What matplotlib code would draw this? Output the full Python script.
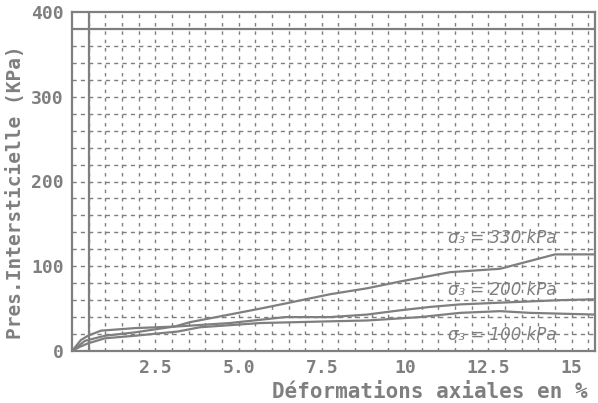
import numpy as np
import matplotlib.pyplot as plt

# strain (%) vs pore pressure (kPa)
strain_330 = [0, 0.39, 0.99, 1.89, 3.09, 3.54, 5.65, 6.4, 7.75, 8.86, 9.85, 11.35, 12.85, 14.5, 15.7]
pres_330 = [0, 12, 18, 22, 29, 34, 50, 56, 67, 74, 82, 93, 97, 114, 114]

strain_200 = [0, 0.27, 0.48, 0.87, 1.89, 3.18, 4.74, 6.4, 7.75, 8.86, 9.85, 10.75, 11.65, 13.45, 14.65, 15.7]
pres_200 = [0, 13, 18, 24, 27, 29, 33, 40, 40, 43, 48, 52, 55, 58, 60, 61]

strain_100 = [0, 0.24, 0.48, 0.99, 1.89, 3.18, 3.84, 5.65, 7.75, 8.86, 10.45, 11.65, 12.85, 13.75, 15.7]
pres_100 = [0, 5, 9, 15, 18, 23, 28, 33, 35, 36, 40, 45, 47, 45, 43]

x_ticks = [2.5, 5.0, 7.5, 10, 12.5, 15]
x_labels = ["2.5", "5.0", "7.5", "10", "12.5", "15"]
y_ticks = [0, 100, 200, 300, 400]
y_labels = ["0", "100", "200", "300", "400"]

notes = ["σ₃ = 330 kPa", "σ₃ = 200 kPa", "σ₃ = 100 kPa"]
note_y = [133, 72, 19]

GRAY = "#7f7f7f"
MONO = "DejaVu Sans Mono"

fig = plt.figure(figsize=(5.98, 4.03), dpi=100)
ax = fig.add_axes([72 / 598, 52 / 403, 523 / 598, 339 / 403])

ax.set_xlim(0, 15.7)
ax.set_ylim(0, 400)

# dashed grid every 0.5 % and every 20 kPa
for gx in np.arange(0.5, 15.7, 0.5):
    ax.axvline(gx, color=GRAY, lw=1, ls=(0, (2.5, 3.5)), zorder=1)
for gy in np.arange(20, 380, 20):
    ax.axhline(gy, color=GRAY, lw=1, ls=(0, (3, 3)), zorder=1)

# inner frame lines of the old plot
ax.axvline(0.5, color=GRAY, lw=1.6, zorder=2)
ax.axhline(380, color=GRAY, lw=1.6, zorder=2)

for sx, sy in [(strain_330, pres_330), (strain_200, pres_200), (strain_100, pres_100)]:
    ax.plot(sx, sy, color=GRAY, lw=1.6, zorder=3)

for txt, yy in zip(notes, note_y):
    ax.text(11.3, yy, txt, color=GRAY, fontsize=12, style="italic",
            va="center", ha="left", zorder=4)

for sp in ax.spines.values():
    sp.set_color(GRAY)
    sp.set_linewidth(1.6)

ax.set_xticks(x_ticks)
ax.set_xticklabels(x_labels)
ax.set_yticks(y_ticks)
ax.set_yticklabels(y_labels)
ax.tick_params(length=0, colors=GRAY, labelsize=13, pad=6)
for lab in ax.get_xticklabels() + ax.get_yticklabels():
    lab.set_fontfamily(MONO)
    lab.set_fontweight("bold")

fig.text(272 / 598, 1 - 392 / 403, "Déformations axiales en %", color=GRAY,
         fontsize=15, fontfamily=MONO, fontweight="bold", ha="left", va="center")
fig.text(16 / 598, 1 - 192 / 403, "Pres.Intersticielle (KPa)", color=GRAY,
         fontsize=14, fontfamily=MONO, fontweight="bold", rotation=90,
         ha="center", va="center")

fig.savefig("out.png", dpi=100)
